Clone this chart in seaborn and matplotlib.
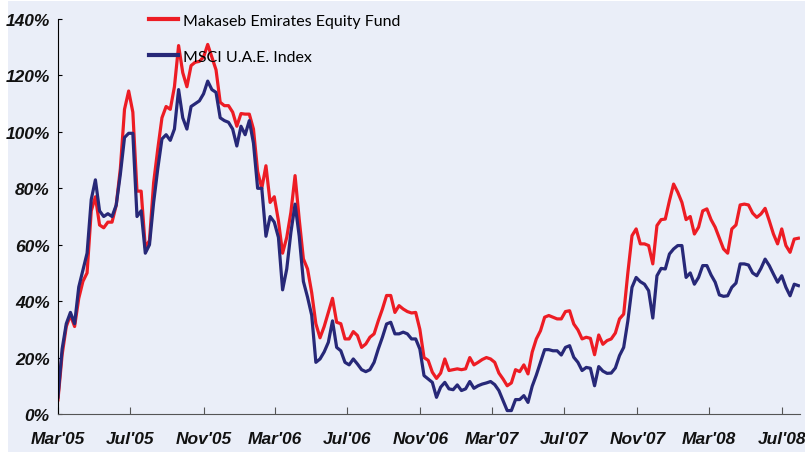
import numpy as np
import pandas as pd
import matplotlib
matplotlib.use("Agg")
import matplotlib.pyplot as plt
import matplotlib.dates as mdates
from matplotlib.patches import Rectangle
from matplotlib.ticker import FuncFormatter
import seaborn as sns

# weekly cumulative performance (%)
makaseb = [
    5, 21, 31, 35, 31, 41, 47, 50, 72, 77, 67, 66, 68, 68, 74, 87, 108, 114.5, 107, 79,
    79, 59, 61.5, 82, 94, 105, 109, 108, 116, 130.6, 121, 116, 123.5, 124.7, 125, 126.5, 131, 126.5, 122, 110.5,
    109.3, 109.3, 107, 102, 106.5, 106.3, 106.3, 101, 86, 80, 88, 75, 77, 68.5, 57, 62.6, 71.5, 84.5, 69, 55,
    51.4, 43, 32, 27, 31, 36, 41, 32.5, 32, 26.6, 26.6, 29.2, 27.8, 23.6, 24.8, 27.2, 28.4, 33, 37.2, 42,
    42, 36, 38.4, 37.2, 36.3, 35.8, 36, 30, 20, 19, 14.8, 12.6, 14.5, 19.5, 15.4, 15.7, 16, 15.7, 16, 20,
    17.4, 18.3, 19.3, 20, 19.5, 18.3, 14.5, 12.4, 10, 11, 15.7, 15, 17.4, 14.2, 21.9, 26.6, 29.5, 34.3, 34.9, 34.3,
    33.7, 33.7, 36.3, 36.6, 31.9, 29.8, 26.6, 27.2, 26.8, 21, 28, 24.7, 26, 26.6, 28.7, 33.7, 35.4, 50, 63.2, 65.6,
    60.3, 60.3, 59.7, 53.2, 66.8, 68.9, 69.1, 75.6, 81.5, 78.6, 75, 68.9, 70, 63.8, 66.2, 72, 72.7, 68.9, 66.2, 62.3,
    58.5, 57, 65.6, 67, 74.1, 74.4, 74.1, 71.2, 69.7, 70.9, 72.9, 68.5, 63.8, 60.3, 65.6, 59.7, 57.3, 62, 62.3,
]
msci = [
    6, 23, 32, 36, 32, 45, 51, 57, 76, 83, 72, 70, 71, 70, 74, 85, 98, 99.5, 99.5, 70,
    72, 57, 60, 75, 87, 97.5, 99, 97, 101, 115, 105, 101, 109, 110, 111, 113.5, 118, 115, 114, 105,
    104, 103.4, 101, 95, 102, 99, 104, 96, 80, 80, 63, 70, 68, 62.6, 44, 51.4, 64.4, 74.4, 63, 47,
    41.4, 35, 18.3, 19.5, 22, 25.4, 33, 23.6, 22.4, 18.3, 17.4, 19.5, 17.7, 15.7, 15, 15.7, 18.3, 23, 27.2, 31.9,
    32.5, 28.4, 28.4, 29, 28.4, 26.6, 26.6, 23, 13.6, 12.4, 11.2, 5.9, 9.5, 11.2, 8.9, 8.6, 10.3, 8.3, 8.9, 11.5,
    9.1, 10, 10.6, 11, 11.5, 10.4, 8.3, 4.7, 1.2, 1.2, 5.1, 5.1, 6.5, 4.1, 9.8, 13.8, 18.3, 22.8, 22.8, 22.4,
    22.4, 20.9, 23.6, 24.2, 20.1, 18.3, 15.4, 16.5, 16.2, 10, 16.8, 15.2, 14.4, 14.5, 16.3, 20.7, 23.6, 33, 44.9, 48.4,
    46.9, 46, 43.7, 34, 49, 51.6, 51.4, 56.7, 58.5, 59.7, 59.7, 48.4, 50, 46, 48.4, 52.6, 52.6, 49.3, 46.7, 42.2,
    41.7, 41.9, 44.9, 46.4, 53.2, 53.2, 52.8, 50, 49, 51.6, 54.9, 52.6, 49.6, 46.7, 49, 44.9, 41.9, 46, 45.5,
]
series_names = ["Makaseb Emirates Equity Fund", "MSCI U.A.E. Index"]
dates = pd.date_range("2005-03-01", periods=len(makaseb), freq="7D")

df = pd.DataFrame({
    "date": np.concatenate([dates, dates]),
    "value": makaseb + msci,
    "series": [series_names[0]] * len(makaseb) + [series_names[1]] * len(msci),
})

bg = "#EAEEF8"
fig = plt.figure(figsize=(8.05, 4.56), dpi=100, facecolor="white")
fig.patches.append(Rectangle((0.01, 0.0066), 0.99, 0.989, transform=fig.transFigure,
                             facecolor=bg, edgecolor="none", zorder=-10))
ax = fig.add_axes([0.072, 0.09, 0.922, 0.866])
ax.set_facecolor(bg)

sns.lineplot(data=df, x="date", y="value", hue="series",
             palette=["#ED1C24", "#272878"], linewidth=2.3, ax=ax)

ax.set_xlim(pd.Timestamp("2005-03-01"), pd.Timestamp("2008-08-01"))
ax.set_ylim(0, 140)
ax.set_yticks(range(0, 141, 20))
ax.yaxis.set_major_formatter(FuncFormatter(lambda v, p: f"{int(v)}%"))
ax.xaxis.set_major_locator(mdates.MonthLocator(bymonth=[3, 7, 11]))
ax.xaxis.set_major_formatter(mdates.DateFormatter("%b'%y"))
ax.set_xlabel("")
ax.set_ylabel("")

for s in ["top", "right"]:
    ax.spines[s].set_visible(False)
ax.spines["left"].set_color("black")
ax.spines["bottom"].set_color("#555555")
ax.tick_params(axis="x", direction="in", length=5, pad=12, color="#555555")
ax.tick_params(axis="y", direction="in", length=3, pad=6)
for lbl in ax.get_xticklabels() + ax.get_yticklabels():
    lbl.set_fontfamily("Liberation Sans")
    lbl.set_fontweight("bold")
    lbl.set_fontstyle("italic")
    lbl.set_fontsize(12.5)
    lbl.set_color("#111111")

leg = ax.legend(loc="upper left", bbox_to_anchor=(0.103, 1.05), frameon=False,
                handlelength=1.85, handletextpad=0.3, labelspacing=1.35,
                prop={"family": "Lato", "size": 11.5})
for line in leg.get_lines():
    line.set_linewidth(3)

fig.savefig("out.png", dpi=100, facecolor="white")
